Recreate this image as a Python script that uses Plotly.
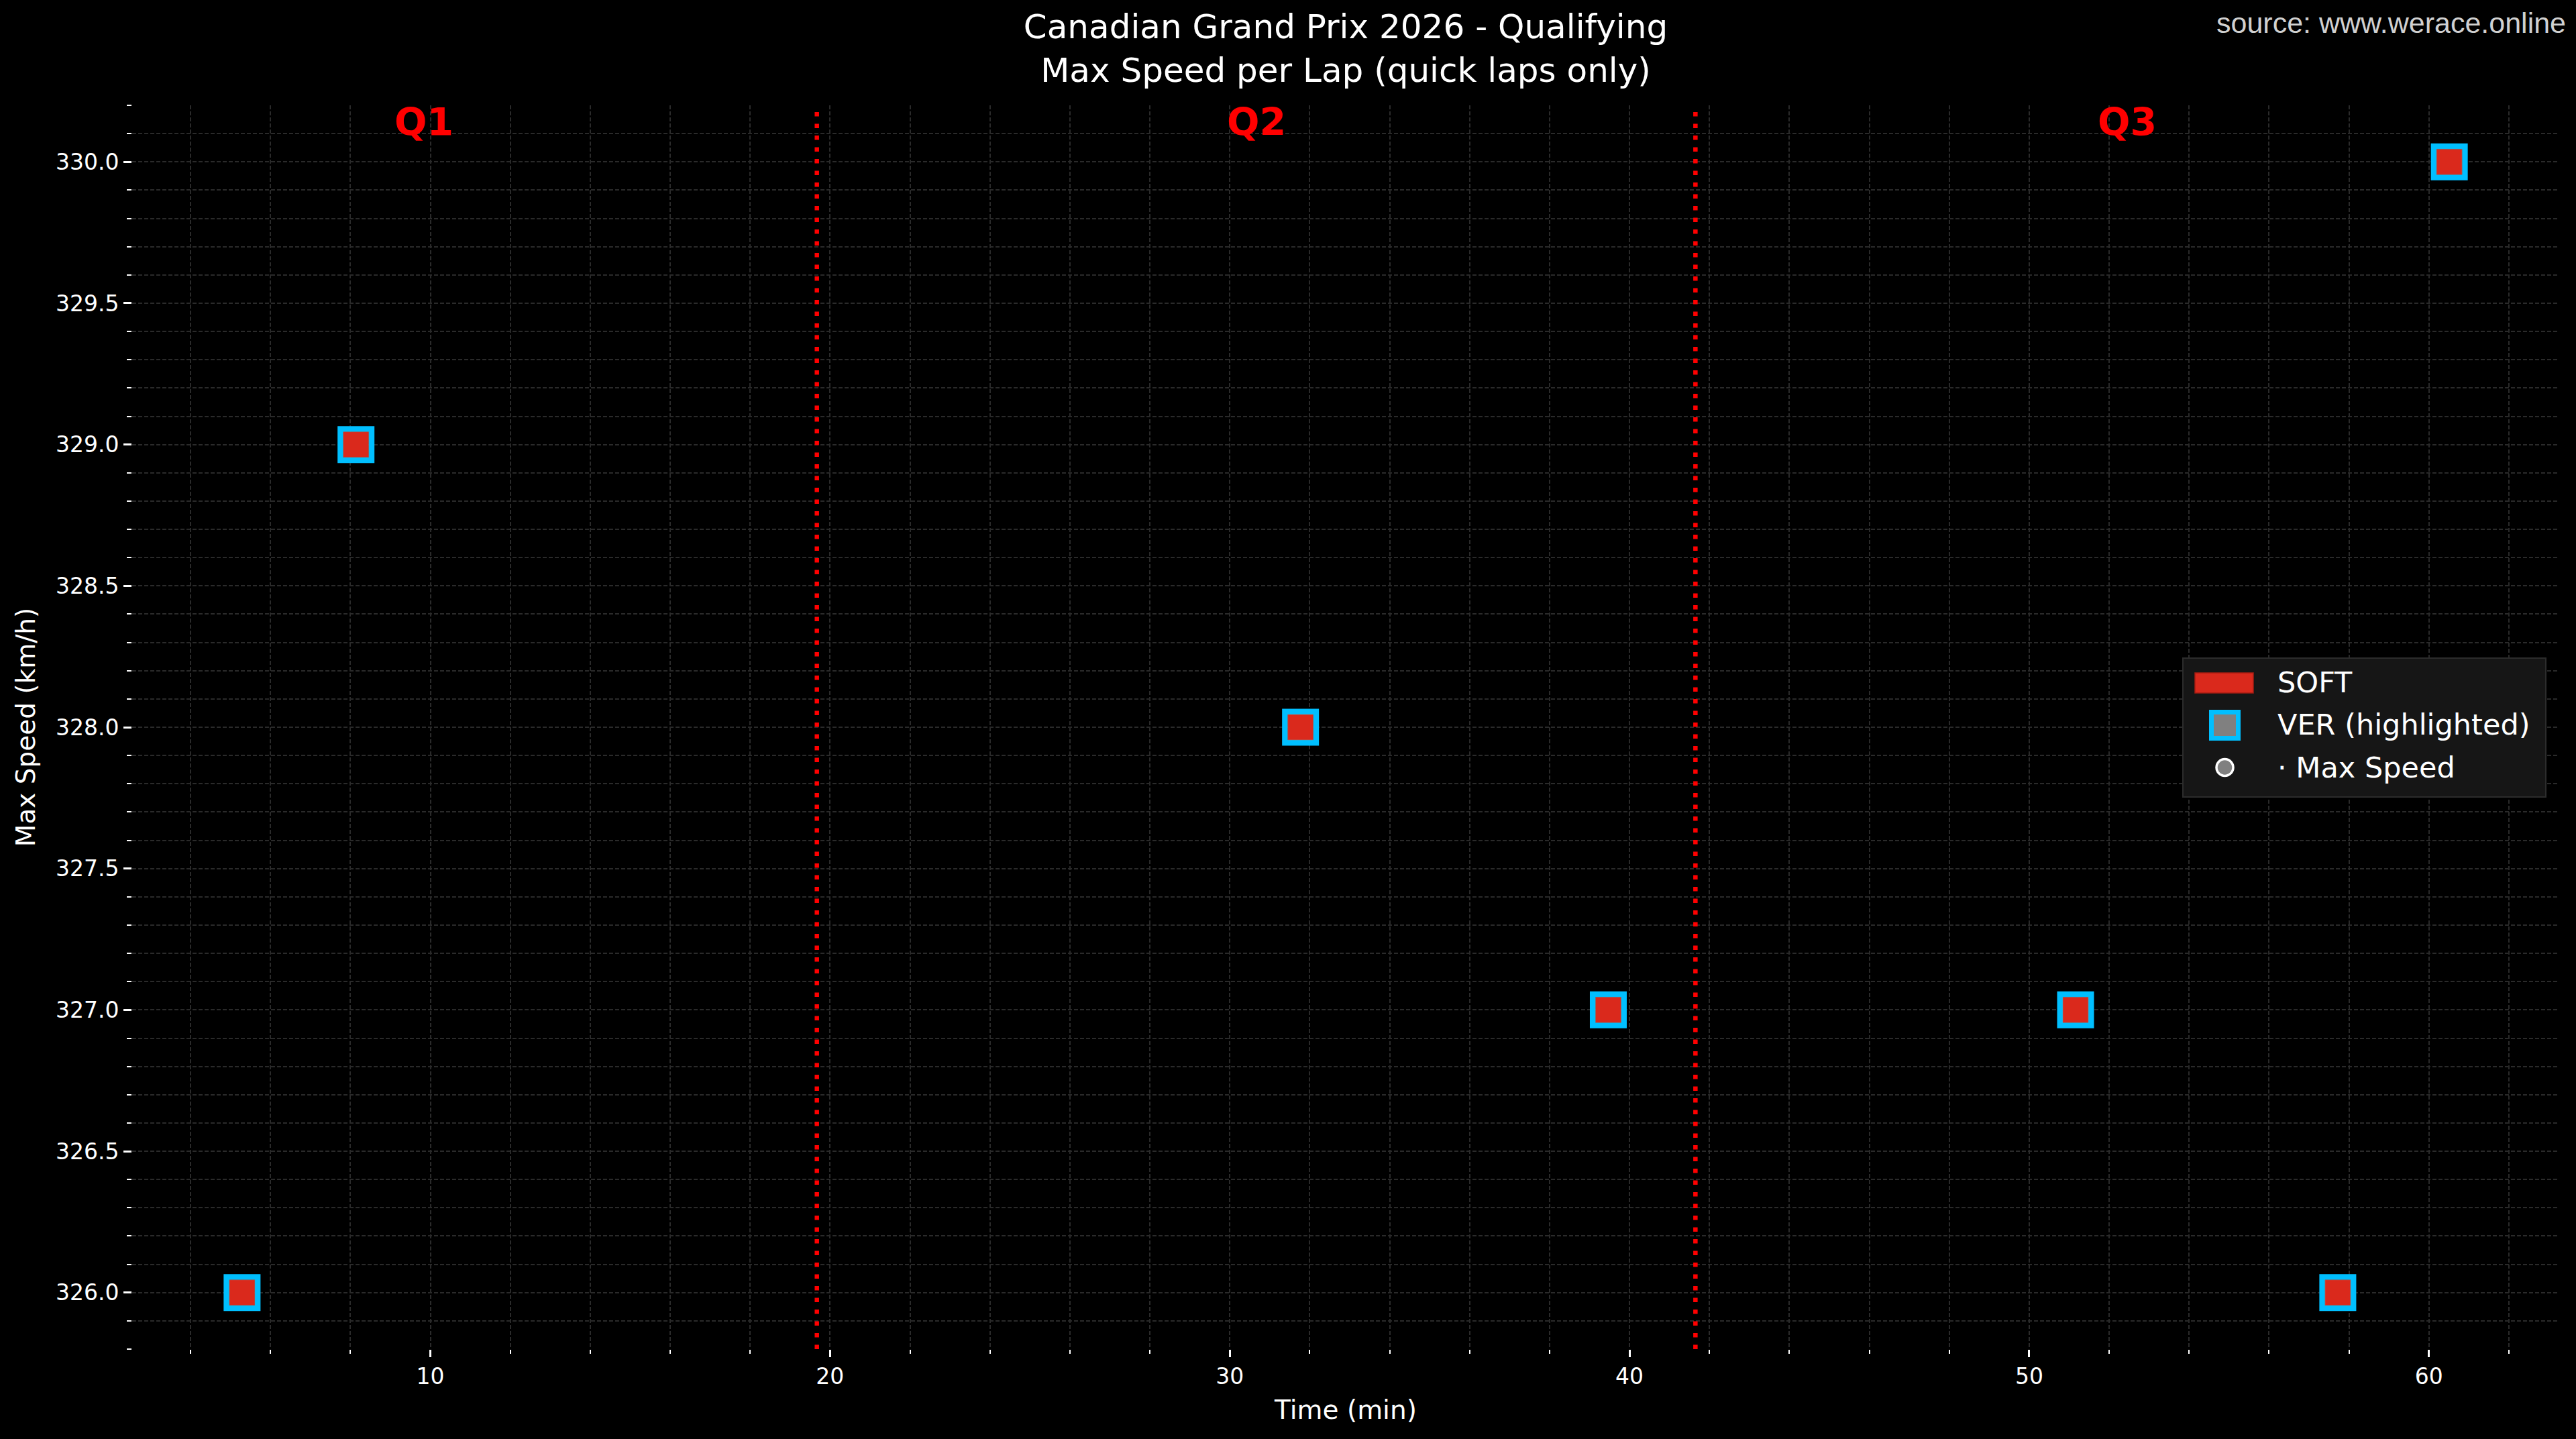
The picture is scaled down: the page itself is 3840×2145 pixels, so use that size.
import plotly.graph_objects as go

# ---------------- data ----------------
lap_time_min = [5.29, 8.14, 31.77, 39.47, 51.16, 57.72, 60.51]
max_speed_kmh = [326.0, 329.0, 328.0, 327.0, 327.0, 326.0, 330.0]
session_breaks_min = [19.67, 41.65]
session_labels = ["Q1", "Q2", "Q3"]
session_label_x = [9.84, 30.66, 52.45]
x_range = [2.54, 63.26]
y_range = [325.8, 330.2]
legend_labels = ["SOFT", "VER (highlighted)", "\u00b7 Max Speed"]

SOFT_RED = "#DA291C"
CYAN = "#00BFFF"

W, H = 3840, 2145
L, R, T, B = 197, 25, 157, 134
PW, PH = W - L - R, H - T - B


def px(xpix):
    return (xpix - L) / PW


def py(ypix):
    return (H - B - ypix) / PH


fig = go.Figure()

# VER highlight (cyan-edged squares)
fig.add_trace(go.Scatter(
    x=lap_time_min, y=max_speed_kmh, mode="markers", name="VER (highlighted)",
    marker=dict(symbol="square", size=46.5, color="rgba(0,0,0,0)",
                line=dict(color=CYAN, width=8.5)),
    showlegend=False, hoverinfo="skip"))
# SOFT compound laps
fig.add_trace(go.Scatter(
    x=lap_time_min, y=max_speed_kmh, mode="markers", name="SOFT",
    marker=dict(symbol="square", size=38, color=SOFT_RED,
                line=dict(color="rgba(140,140,140,0.6)", width=1)),
    showlegend=False))

shapes = []
for xb in session_breaks_min:
    shapes.append(dict(type="line", xref="x", yref="paper", x0=xb, x1=xb, y0=0, y1=1,
                       line=dict(color="red", width=6.5, dash="6.5px,11px"), layer="above"))

# manual legend
shapes.append(dict(type="rect", xref="paper", yref="paper",
                   x0=px(3254), x1=px(3795), y0=py(1188), y1=py(981),
                   fillcolor="#161616", line=dict(color="#2c2c2c", width=2), layer="above"))
shapes.append(dict(type="rect", xref="paper", yref="paper",
                   x0=px(3272), x1=px(3359), y0=py(1033), y1=py(1003),
                   fillcolor=SOFT_RED, line=dict(color="#a81d12", width=1.5), layer="above"))
shapes.append(dict(type="rect", xref="paper", yref="paper",
                   x0=px(3296.5), x1=px(3336.5), y0=py(1100.5), y1=py(1061.5),
                   fillcolor="#808080", line=dict(color=CYAN, width=7), layer="above"))
shapes.append(dict(type="circle", xref="paper", yref="paper",
                   x0=px(3304), x1=px(3329), y0=py(1156.5), y1=py(1131.5),
                   fillcolor="#808080", line=dict(color="white", width=3.5), layer="above"))

annotations = []
for lbl, xl in zip(session_labels, session_label_x):
    annotations.append(dict(text="<b>%s</b>" % lbl, x=xl, xref="x", y=py(182), yref="paper",
                            xanchor="center", yanchor="middle", showarrow=False,
                            font=dict(family="DejaVu Sans", size=57, color="red")))
for lbl, yc in zip(legend_labels, [1017, 1080, 1144]):
    annotations.append(dict(text=lbl, x=px(3393), xref="paper", y=py(yc), yref="paper",
                            xanchor="left", yanchor="middle", showarrow=False,
                            font=dict(family="DejaVu Sans", size=43, color="white")))
annotations.append(dict(text="source: www.werace.online", x=px(3827), xref="paper",
                        y=py(34), yref="paper", xanchor="right", yanchor="middle",
                        showarrow=False,
                        font=dict(family="Liberation Sans", size=43, color="#d0d0d0")))

grid_dash = "6px,3px"
grid_color = "#2a2a2a"

fig.update_layout(
    width=W, height=H,
    margin=dict(l=L, r=R, t=T, b=B, autoexpand=False),
    paper_bgcolor="black", plot_bgcolor="black",
    font=dict(family="DejaVu Sans", color="white"),
    showlegend=False,
    title=dict(text="Canadian Grand Prix 2026 - Qualifying<br>Max Speed per Lap (quick laps only)",
               x=px(2006), xref="paper", xanchor="center",
               y=1 - 57 / H, yref="container", yanchor="middle",
               font=dict(family="DejaVu Sans", size=50, color="white")),
    shapes=shapes,
    annotations=annotations,
    xaxis=dict(range=x_range, tickmode="linear", tick0=0, dtick=10,
               ticks="outside", ticklen=11, tickwidth=2.7, tickcolor="white",
               showgrid=True, gridcolor=grid_color, griddash=grid_dash, gridwidth=1.7,
               zeroline=False, showline=False,
               tickfont=dict(family="DejaVu Sans", size=33, color="white"),
               minor=dict(tick0=0, dtick=2, ticks="outside", ticklen=6, tickwidth=2,
                          tickcolor="white", showgrid=True, gridcolor=grid_color,
                          griddash=grid_dash, gridwidth=1.7),
               title=dict(text="Time (min)", standoff=18,
                          font=dict(family="DejaVu Sans", size=39, color="white"))),
    yaxis=dict(range=y_range, tickmode="linear", tick0=326, dtick=0.5, tickformat=".1f",
               ticks="outside", ticklen=12, tickwidth=2.7, tickcolor="white",
               showgrid=True, gridcolor=grid_color, griddash=grid_dash, gridwidth=1.7,
               zeroline=False, showline=False,
               tickfont=dict(family="DejaVu Sans", size=33, color="white"),
               minor=dict(tick0=326, dtick=0.1, ticks="outside", ticklen=7, tickwidth=2,
                          tickcolor="white", showgrid=True, gridcolor=grid_color,
                          griddash=grid_dash, gridwidth=1.7),
               title=dict(text="Max Speed (km/h)", standoff=18,
                          font=dict(family="DejaVu Sans", size=39, color="white"))),
)

fig.write_html("out.html", config={"displayModeBar": False},
               post_script="document.body.style.margin='0';document.body.style.overflow='hidden';")
